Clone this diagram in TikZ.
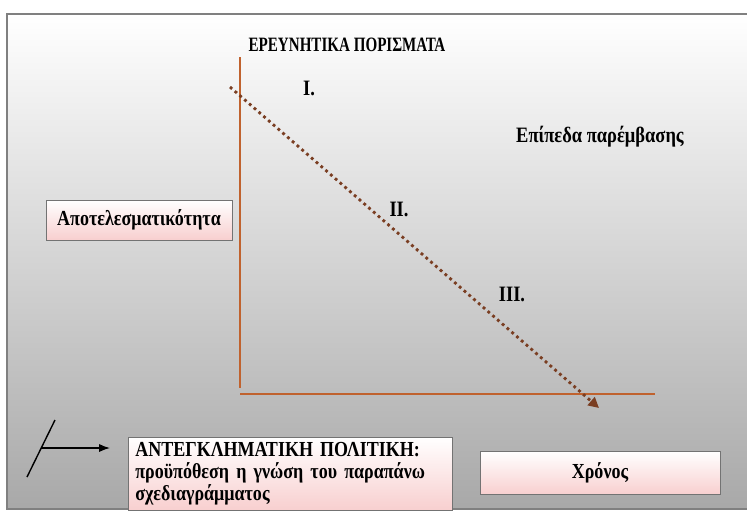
\documentclass[tikz,border=0pt]{standalone}
\usepackage{fontspec}
\setmainfont[FakeStretch=0.84]{Liberation Serif}
\newfontfamily\titlefont[FakeStretch=0.74]{Liberation Serif}
\usepackage{xcolor}
\usepackage{tikz}
\usetikzlibrary{arrows.meta, positioning, calc, shadings}

\definecolor{axisorange}{HTML}{C0622E}
\definecolor{dotbrown}{HTML}{7A3E22}
\definecolor{boxpink}{HTML}{F8CFCF}

\begin{document}
\begin{tikzpicture}[x=0.02cm, y=-0.02cm,
    pinkbox/.style={rectangle, draw=black!55, top color=white, bottom color=boxpink, inner sep=3pt, font=\fontsize{12.2}{12.4}\selectfont\bfseries},
    lbl/.style={font=\fontsize{12.5}{13}\selectfont\bfseries},
    axis/.style={line width=1.6pt, draw=axisorange},
    trend/.style={line width=1.6pt, dotted, draw=dotbrown, -{Triangle[length=6pt, width=6pt]}},
    arr/.style={-{Latex[length=2.2mm]}, thick, draw=black}
]
    % Πλαίσιο διαφάνειας
    \useasboundingbox (0,0) rectangle (747,511);
    \fill[white] (0,0) rectangle (747,511);
    \shade[top color=white, middle color=black!13, bottom color=black!34] (7,14) rectangle (747,509);
    \draw[black!50, line width=1pt] (747,14) -- (7,14) -- (7,509) -- (747,509);

    % Τίτλος
    \node[font=\fontsize{11.6}{13}\selectfont\titlefont\bfseries] (title) at (347,45) {ΕΡΕΥΝΗΤΙΚΑ ΠΟΡΙΣΜΑΤΑ};

    % Άξονες
    \coordinate (ytop) at (240,57);
    \coordinate (ybot) at (240,388);
    \coordinate (xleft) at (240,394);
    \coordinate (xright) at (655,394);
    \draw[axis] (ytop) -- (ybot);
    \draw[axis] (xleft) -- (xright);

    % Φθίνουσα καμπύλη
    \coordinate (tstart) at (230,87);
    \coordinate (tend) at (599,408);
    \draw[trend] (tstart) -- (tend);

    % Επίπεδα
    \node[lbl] (lev1) at (309,88) {I.};
    \node[lbl] (lev2) at (399,209) {II.};
    \node[lbl] (lev3) at (512,294) {III.};
    \node[lbl] (levels) at (600,137) {Επίπεδα παρέμβασης};

    % Πλαίσια κειμένου
    \node[pinkbox, minimum width=3.72cm, minimum height=0.8cm] (effect) at (139,220) {Αποτελεσματικότητα};

    \node[pinkbox, minimum width=4.8cm, minimum height=0.86cm] (time) at (600,473) {Χρόνος};

    \node[pinkbox, anchor=north west, minimum width=6.48cm, minimum height=1.46cm, text width=6.2cm, align=left, inner sep=3pt] (policy) at (128,437)
        {ΑΝΤΕΓΚΛΗΜΑΤΙΚΗ ΠΟΛΙΤΙΚΗ:\\προϋπόθεση η γνώση του παραπάνω\\σχεδιαγράμματος};

    % Σύμβολο με βέλος
    \coordinate (slanttop) at (55,420);
    \coordinate (slantbot) at (27,477);
    \coordinate (arrstart) at (41,448);
    \coordinate (arrend) at (110,448);
    \draw[thick] (slantbot) -- (slanttop);
    \draw[arr] (arrstart) -- (arrend);
\end{tikzpicture}
\end{document}
